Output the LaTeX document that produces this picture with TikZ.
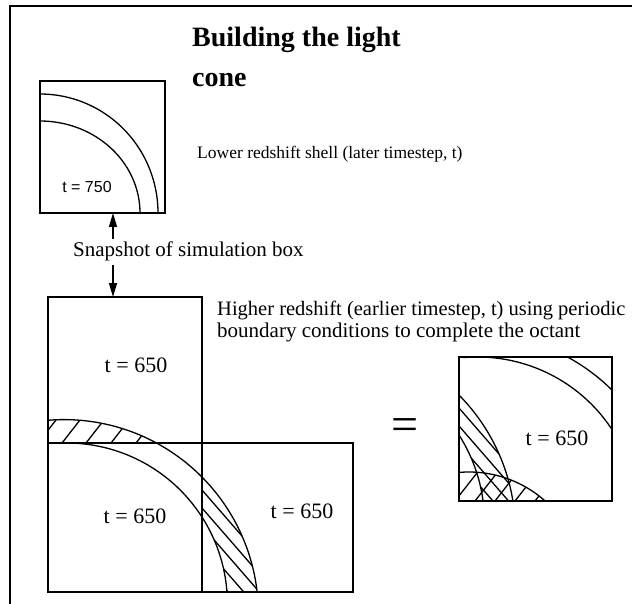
\documentclass[tikz,border=0pt]{standalone}
\usepackage{fontspec}
\setmainfont{Liberation Serif}
\newfontfamily\sansf{Liberation Sans}
\usetikzlibrary{arrows.meta}
\begin{document}
\begin{tikzpicture}[x=1pt,y=-1pt,
  box/.style={draw, line width=1.4pt, inner sep=0pt, outer sep=0pt, anchor=north west},
  arcline/.style={line width=1.3pt},
  hatchline/.style={line width=1.3pt},
  lbl/.style={inner sep=0pt, anchor=base west, font=\fontsize{21}{22}\selectfont},
  tlbl/.style={inner sep=0pt, font=\fontsize{22}{24}\selectfont},
  ttl/.style={inner sep=0pt, anchor=base west, font=\fontsize{28}{34}\selectfont\bfseries},
  arr/.style={line width=1.4pt, -{Triangle[length=14pt,width=8pt]}},
]
\useasboundingbox (0,0) rectangle (632,604);
\clip (0,0) rectangle (632,604);
\fill[white] (0,0) rectangle (632,604);
% frame
\draw[line width=2pt] (10,604) -- (10,6) -- (632,6);

% title and texts
\node[ttl] (title1) at (192,47) {Building the light};
\node[ttl] (title2) at (192,87) {cone};
\node[lbl, font=\fontsize{17.5}{20}\selectfont] (lower) at (197,159) {Lower redshift shell (later timestep, t)};
\node[lbl, inner sep=3pt] (snap) at (70,257) {Snapshot of simulation box};
\node[lbl, font=\fontsize{20.5}{22}\selectfont] (higher1) at (217,316) {Higher redshift (earlier timestep, t) using periodic};
\node[lbl] (higher2) at (217,337) {boundary conditions to complete the octant};

% top snapshot box
\node[box, minimum width=125pt, minimum height=132pt] (topbox) at (40,81) {};
\draw[arcline] plot[domain=90:0, samples=60, smooth] ({40+118*cos(\x)},{213-119*sin(\x)});
\draw[arcline] plot[domain=90:0, samples=60, smooth] ({40+100*cos(\x)},{213-92*sin(\x)});
\node[inner sep=0pt, font=\sansf\fontsize{16}{18}\selectfont] (t750) at (87,187) {t = 750};

% composite boxes
\node[box, minimum width=154pt, minimum height=146pt] (ulbox) at (48,297) {};
\node[box, minimum width=154pt, minimum height=149pt] (llbox) at (48,443) {};
\node[box, minimum width=151pt, minimum height=149pt] (rbox) at (202,443) {};

% arrows
\coordinate (ax) at (113,0);
\draw[arr] (snap.north -| ax) -- (topbox.south -| ax);
\draw[arr] (snap.south -| ax) -- (ulbox.north -| ax);

% composite shell arcs
\draw[arcline] plot[domain=94.7:6.5, samples=100, smooth] ({64+194.4*cos(\x)},{614-194.4*sin(\x)});
\draw[arcline] plot[domain=88:4.6, samples=100, smooth] ({66.6+160.8*cos(\x)},{603.8-160.8*sin(\x)});
% hatch in upper piece
\begin{scope}
  \clip (48,297) rectangle (202,443);
  \clip (64,614) circle[radius=194.4pt];
  \foreach \hx in {38,62,86,111,136} \draw[hatchline] (\hx,443) -- ++(36,-46);
\end{scope}
% hatch in right piece
\begin{scope}[even odd rule]
  \clip (202,443) rectangle (353,592);
  \clip (64,614) circle[radius=194.4pt] (66.6,603.8) circle[radius=160.8pt];
  \foreach \hy in {490,508,526,544,562} \draw[hatchline] (202,\hy) -- ++(120,138);
\end{scope}

\node[tlbl] (t650a) at (136,365) {t = 650};
\node[tlbl] (t650b) at (135,516) {t = 650};
\node[tlbl] (t650c) at (302,511) {t = 650};

% equals sign
\node[inner sep=0pt, font=\fontsize{48}{50}\selectfont] (eq) at (405,430) {=};

% octant box
\node[box, minimum width=153pt, minimum height=144pt] (octbox) at (459,357) {};
\begin{scope}
  \clip (459,357) rectangle (612,501);
  \draw[arcline] plot[domain=95:25, samples=80, smooth] ({477.6+160.8*cos(\x)},{517.8-160.8*sin(\x)});
  \draw[arcline] plot[domain=70:30, samples=60, smooth] ({475+194.4*cos(\x)},{528-194.4*sin(\x)});
  \draw[arcline] plot[domain=50:5, samples=60, smooth] ({321+194.4*cos(\x)},{532-194.4*sin(\x)});
  \draw[arcline] plot[domain=50:5, samples=60, smooth] ({323.6+160.8*cos(\x)},{521.8-160.8*sin(\x)});
  \draw[arcline] plot[domain=110:40, samples=60, smooth] ({469+114.4*cos(\x)},{586.4-114.4*sin(\x)});
  \begin{scope}[even odd rule]
    \clip (321,532) circle[radius=194.4pt] (323.6,521.8) circle[radius=160.8pt];
    \foreach \hy in {408,426,444,462,480} \draw[hatchline] (459,\hy) -- ++(120,138);
  \end{scope}
  \begin{scope}
    \clip (469,586.4) circle[radius=114.4pt];
    \foreach \hx in {455,475,495,515,535} \draw[hatchline] (\hx,501) -- ++(36,-46);
  \end{scope}
\end{scope}
\node[tlbl] (t650d) at (557,438) {t = 650};
\end{tikzpicture}
\end{document}
